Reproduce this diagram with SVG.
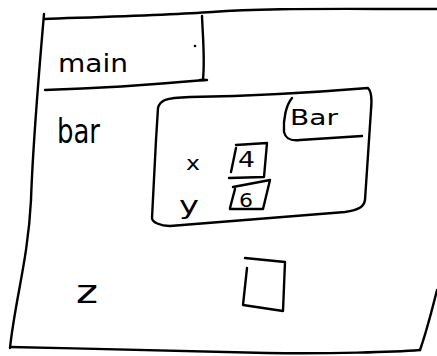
<svg xmlns="http://www.w3.org/2000/svg" width="437" height="356" viewBox="0 0 437 356">
<style>
.s{fill:none;stroke:#000;stroke-width:2.4;stroke-linecap:round;stroke-linejoin:round}
.t{font-family:"DejaVu Sans","Liberation Sans",sans-serif;fill:#000}
</style>
<rect width="437" height="356" fill="#fff"/>
<g id="frame">
<path class="s" d="M44,19 C100,17 170,15 212,12 C260,8 320,9 437,9"/>
<path class="s" d="M44,14 C40,60 33,140 31,200 C28,260 15,300 10,348"/>
<path class="s" d="M10,347 C100,349 200,351 267,353 C330,354 395,352 420,350"/>
<path class="s" d="M420,350 C427,330 432,310 437,290"/>
</g>
<g id="main">
<path class="s" d="M202,16 C203,40 205,60 203,79"/>
<path class="s" d="M200,80 L207,80"/>
<path class="s" d="M45,90 C110,88 160,84 205,80"/>
<circle cx="195" cy="46" r="1.3" fill="#000"/>
<text class="t" x="58" y="72" font-size="24" textLength="70" lengthAdjust="spacingAndGlyphs">main</text>
</g>
<g id="bar">
<text class="t" x="57" y="143" font-size="34" textLength="43" lengthAdjust="spacingAndGlyphs">bar</text>
</g>
<g id="Bar">
<path class="s" d="M158,108 C160,100 165,98 190,97 C250,96 320,92 368,88 C372,92 372,100 371,110 L365,200 C364,206 360,210 345,212 L170,226 C160,226 152,222 152,218 L156,140 Z"/>
<path class="s" d="M292,98 C286,105 283,120 284,132 C286,140 292,141 300,140 L362,136"/>
<text class="t" x="290" y="125" font-size="21" textLength="48" lengthAdjust="spacingAndGlyphs">Bar</text>
</g>
<g id="x">
<text class="t" x="186" y="170" font-size="20" textLength="14" lengthAdjust="spacingAndGlyphs">x</text>
<path class="s" d="M236,145 L267,143 L264,177 L229,178"/>
<path class="s" d="M236,148 L231,172"/>
<text class="t" x="238" y="167" font-size="22" textLength="17" lengthAdjust="spacingAndGlyphs">4</text>
</g>
<g id="y">
<text class="t" x="179" y="214" font-size="24" textLength="20" lengthAdjust="spacingAndGlyphs">y</text>
<path class="s" d="M233,187 L270,180 L263,209 L230,209"/>
<path class="s" d="M235,189 L230,208"/>
<text class="t" x="239" y="207" font-size="19" textLength="14" lengthAdjust="spacingAndGlyphs">6</text>
</g>
<g id="z">
<text class="t" x="76" y="303" font-size="32" textLength="22" lengthAdjust="spacingAndGlyphs">z</text>
<path class="s" d="M245,258 L285,262 L283,311 L243,305 L247,268"/>
</g>
</svg>
